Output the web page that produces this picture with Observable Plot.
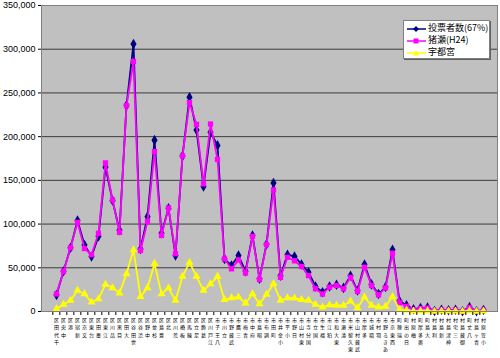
<!DOCTYPE html>
<html><head><meta charset="utf-8">
<script src="https://cdn.jsdelivr.net/npm/d3@7"></script>
<script src="https://cdn.jsdelivr.net/npm/@observablehq/plot@0.6"></script>
<style>
body{margin:0;background:#fff;font-family:"Noto Sans CJK JP",sans-serif;}
#wrap{position:relative;width:500px;height:358px;}
#legend{position:absolute;left:403px;top:20px;width:85px;height:37px;background:#fff;border:1px solid #808080;box-shadow:1px 1px 0 #606060;font-family:"Noto Sans CJK JP",sans-serif;font-size:9px;color:#000;}
#legend .row{position:absolute;left:3px;height:12px;line-height:12px;white-space:nowrap;}
#legend svg{vertical-align:middle;}
</style>
</head><body>
<div id="wrap"><div id="chart"></div><div id="legend"></div></div>
<script>
const names = ["千代田区","中央区","港区","新宿区","文京区","台東区","墨田区","江東区","品川区","目黒区","大田区","世田谷区","渋谷区","中野区","杉並区","豊島区","北区","荒川区","板橋区","練馬区","足立区","葛飾区","江戸川区","八王子市","立川市","武蔵野市","三鷹市","青梅市","府中市","昭島市","調布市","町田市","小金井市","小平市","日野市","東村山市","国分寺市","国立市","福生市","狛江市","東大和市","清瀬市","東久留米市","武蔵村山市","多摩市","稲城市","羽村市","あきる野市","西東京市","瑞穂町","日の出町","檜原村","奥多摩町","大島町","利島村","新島村","神津島村","三宅村","御蔵島村","八丈町","青ヶ島村","小笠原村"];

const voters = [19000,46000,73000,104000,76000,63000,86000,165000,127000,93000,236000,306000,71500,108500,196000,89500,118000,64000,178000,245000,207500,143000,205000,190000,60000,52600,64000,46000,87000,37500,77000,147000,41000,65000,63000,53800,45000,28600,22000,28500,30500,27000,41000,24000,53800,31000,20000,28000,70600,12000,7000,2500,4000,4500,500,2000,1500,2000,300,5000,200,1800];

const inose = [20000,46000,73000,102000,72000,65000,89500,170000,127500,90500,235500,286000,69800,103000,183000,87000,118500,66000,178000,239000,214000,146000,214500,174000,60000,48800,59000,44000,86000,36600,76600,139000,39000,62000,58000,51500,41000,26000,20000,27800,29700,26000,39000,23000,50700,29700,19000,27000,66700,10000,6000,2000,3500,4000,400,1800,1300,1800,200,4500,150,1500];

const utsunomiya = [3000,8000,12600,24000,20000,10600,14500,31000,27000,21000,43000,70500,17000,27000,55000,20000,27000,12600,40000,56000,40000,24000,31500,40000,13400,15500,16500,9500,20000,8800,19400,31700,12600,15500,15200,13400,12600,8000,5000,7600,6900,6900,11800,4200,16400,6900,5000,5700,17000,2500,1500,400,700,800,100,300,300,300,50,900,30,300];

const seriesNames = ["投票者数(67%)","猪瀬(H24)","宇都宮"];
const seriesColors = ["#000080","#ff00ff","#ffff00"];
const yTicks = [0,50000,100000,150000,200000,250000,300000,350000];

const W = 500, H = 358, ML = 41, MR = 3, MT = 5, MB = 47;
const step = (W - ML - MR) / names.length;
const labelFont = 5;
const rowStep = 7.3;

const tidy = (vals, s) => vals.map((v, i) => ({name: names[i], value: v, series: s}));
const d0 = tidy(voters, seriesNames[0]);
const d1 = tidy(inose, seriesNames[1]);
const d2 = tidy(utsunomiya, seriesNames[2]);

// one text mark per character row: labels are stacked upright, read bottom-to-top
const maxLen = d3.max(names, n => [...n].length);
const labelMarks = d3.range(maxLen).map(k =>
  Plot.text(names.filter(n => [...n].length > k), {
    x: d => d,
    text: d => [...d].reverse()[k],
    frameAnchor: "bottom", lineAnchor: "top",
    dy: 7 + k * rowStep,
    fontSize: labelFont, fill: "#000",
    fontFamily: "'Noto Sans CJK JP', sans-serif"
  })
);

const chart = Plot.plot({
  width: W, height: H,
  marginLeft: ML, marginRight: MR, marginTop: MT, marginBottom: MB,
  style: {background: "#fff", fontFamily: "'Liberation Sans', Arial, sans-serif", overflow: "visible"},
  x: {type: "point", domain: names, padding: 0.5, axis: null},
  y: {domain: [0, 350000], axis: null},
  marks: [
    Plot.frame({fill: "#c0c0c0"}),
    Plot.gridY(yTicks, {stroke: "#3c3c3c", strokeOpacity: 1, strokeWidth: 1}),
    Plot.line(d0, {x: "name", y: "value", stroke: seriesColors[0], strokeWidth: 1.8}),
    Plot.dot(d0, {x: "name", y: "value", fill: seriesColors[0], symbol: "diamond", r: 3.2}),
    Plot.line(d1, {x: "name", y: "value", stroke: seriesColors[1], strokeWidth: 1.8}),
    Plot.dot(d1, {x: "name", y: "value", fill: seriesColors[1], symbol: "square", r: 3}),
    Plot.line(d2, {x: "name", y: "value", stroke: seriesColors[2], strokeWidth: 1.8}),
    Plot.dot(d2, {x: "name", y: "value", fill: seriesColors[2], symbol: "triangle", r: 3}),
    Plot.axisY({ticks: yTicks, tickFormat: d3.format(","), tickSize: 3, tickPadding: 3, fontSize: 9, stroke: "#000", color: "#000", label: null}),
    Plot.axisX({tickSize: 4, tickFormat: () => "", dx: -step / 2, stroke: "#000", label: null}),
    ...labelMarks,
    Plot.frame({stroke: "#808080"})
  ]
});
document.getElementById("chart").appendChild(chart);

// legend
const lg = document.getElementById("legend");
const symbols = ["diamond", "square", "triangle"];
seriesNames.forEach((s, i) => {
  const row = document.createElement("div");
  row.className = "row";
  row.style.top = (1 + i * 12) + "px";
  let marker = "";
  if (symbols[i] === "diamond") marker = `<path d="M9,3 L12,6 L9,9 L6,6 Z" fill="${seriesColors[i]}"/>`;
  if (symbols[i] === "square") marker = `<rect x="6.5" y="3.5" width="5" height="5" fill="${seriesColors[i]}"/>`;
  if (symbols[i] === "triangle") marker = `<path d="M9,3 L12,8.5 L6,8.5 Z" fill="${seriesColors[i]}"/>`;
  row.innerHTML = `<svg width="19" height="12"><line x1="0" y1="6" x2="19" y2="6" stroke="${seriesColors[i]}" stroke-width="1.5"/>${marker}</svg><span style="margin-left:2px">${s}</span>`;
  lg.appendChild(row);
});
</script>
</body></html>
